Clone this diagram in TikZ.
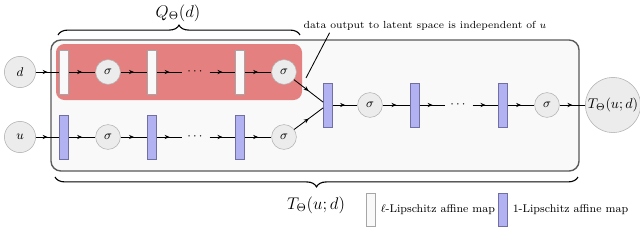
\documentclass[tikz,border=0pt]{standalone}
\usepackage{amsmath,amssymb}
\usepackage{tikz}
\usetikzlibrary{arrows.meta,positioning,calc,decorations.markings,decorations.pathreplacing}

\definecolor{qred}{RGB}{228,128,128}
\definecolor{lipblue}{RGB}{178,178,242}
\definecolor{lipedge}{RGB}{112,112,165}

\begin{document}
\begin{tikzpicture}[x=0.025cm, y=0.025cm, every node/.style={font=\small},
  act/.style={circle, draw=gray!60, fill=gray!15, minimum size=0.62cm, inner sep=0pt},
  io/.style={circle, draw=gray!60, fill=gray!15, minimum size=0.78cm, inner sep=0pt},
  lmap/.style={rectangle, draw=gray!70, fill=gray!5, minimum width=0.225cm, minimum height=1.1cm, inner sep=0pt},
  omap/.style={lmap, draw=lipedge, fill=lipblue},
  flow/.style={semithick, postaction={decorate}, decoration={markings,
      mark=at position 0.5 with {\arrow{Stealth[length=3.5pt,width=3pt]}}}}]
  \useasboundingbox (0,0) rectangle (640,246);
  % the whole map T and the part Q
  \draw[black!65, line width=1pt, fill=gray!5, rounded corners=7pt] (51,75) rectangle (579,206);
  \fill[qred, rounded corners=6pt] (56,146) rectangle (302,202);
  % inputs
  \node[io] (d) at (20,174) {$d$};
  \node[io] (u) at (20,109) {$u$};
  % two parallel branches
  \foreach \i/\x in {1/64,2/152,3/240} {
    \node[lmap] (q\i) at (\x,174) {};
    \node[omap] (p\i) at (\x,109) {};
  }
  \node[act] (qs1) at (108,174) {$\sigma$}; \node[act] (qs2) at (284,174) {$\sigma$};
  \node[act] (ps1) at (108,109) {$\sigma$}; \node[act] (ps2) at (284,109) {$\sigma$};
  \node (qdots) at (196,174) {$\cdots$};
  \node (pdots) at (196,109) {$\cdots$};
  \foreach \a/\b in {d/q1,q1/qs1,qs1/q2,q2/qdots,qdots/q3,q3/qs2,
                     u/p1,p1/ps1,ps1/p2,p2/pdots,pdots/p3,p3/ps2}
    \draw[flow] (\a) -- (\b);
  % joint branch
  \node[omap] (m1) at (328,141) {};
  \node[act] (ms1) at (370,141) {$\sigma$};
  \node[omap] (m2) at (415,141) {};
  \node (mdots) at (459,141) {$\cdots$};
  \node[omap] (m3) at (503,141) {};
  \node[act] (ms2) at (547,141) {$\sigma$};
  \node[io, minimum size=1.38cm, font=\normalsize] (T) at (613,141) {$T_\Theta(u;d)$};
  \draw[flow] (qs2) -- ([yshift=2pt]m1.west);
  \draw[flow] (ps2) -- ([yshift=-2pt]m1.west);
  \foreach \a/\b in {m1/ms1,ms1/m2,m2/mdots,mdots/m3,m3/ms2,ms2/T}
    \draw[flow] (\a) -- (\b);
  % braces
  \draw[thick, decorate, decoration={brace, amplitude=7pt}] (58,211) -- (300,211);
  \node[font=\large] (qlab) at (178,233) {$Q_\Theta(d)$};
  \draw[thick, decorate, decoration={brace, amplitude=7pt}] (578,69) -- (55,69);
  \node[font=\large] (tlab) at (316,41) {$T_\Theta(u;d)$};
  % remark
  \node[font=\fontsize{7.3}{9}\selectfont] (note) at (425,220) {data output to latent space is independent of $u$};
  \coordinate (notetip) at (306,168);
  \draw[semithick] ([xshift=22pt,yshift=2pt]note.south west) -- (notetip);
  % legend
  \node[lmap, minimum height=0.825cm] (leg1) at (371,36) {};
  \node[font=\footnotesize, right=0pt of leg1] (leg1txt) {$\ell$-Lipschitz affine map};
  \node[omap, minimum height=0.825cm] (leg2) at (503,36) {};
  \node[font=\footnotesize, right=0pt of leg2] (leg2txt) {1-Lipschitz affine map};
\end{tikzpicture}
\end{document}
